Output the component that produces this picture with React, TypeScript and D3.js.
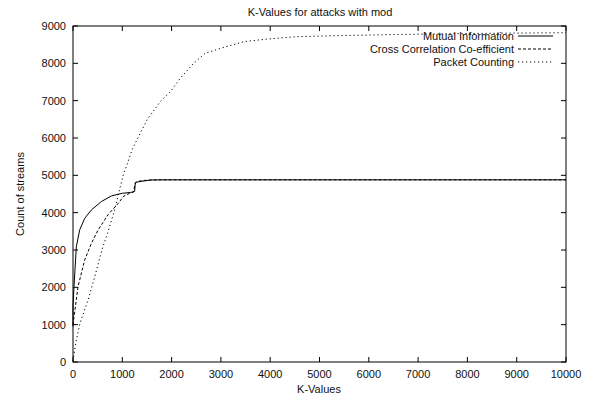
import React from "react";
import * as d3 from "d3";

// Mutual Information (solid)
const miK = [0, 0, 20, 68, 136, 238, 374, 578, 782, 1000, 1163, 1250, 1265, 1367, 1571, 1800, 2500, 10000];
const miV = [950, 1500, 2020, 3090, 3540, 3850, 4075, 4300, 4450, 4520, 4540, 4570, 4810, 4835, 4875, 4880, 4880, 4880];

// Cross Correlation Co-efficient (dashed)
const ccK = [0, 50, 102, 238, 374, 510, 714, 918, 1027, 1150, 1225, 1265, 1300, 1400, 1600, 2000, 10000];
const ccV = [1000, 1500, 2020, 2735, 3180, 3540, 3950, 4250, 4440, 4520, 4550, 4800, 4830, 4860, 4875, 4880, 4880];

// Packet Counting (dotted)
const pcK = [0, 68, 143, 306, 442, 585, 714, 850, 925, 1027, 1100, 1197, 1300, 1504, 1775, 1980, 2175, 2445, 2683, 2988, 3462, 3937, 4547, 5500, 6500, 7500, 8500, 10000];
const pcV = [30, 590, 1045, 1660, 2290, 3000, 3500, 4100, 4520, 5050, 5300, 5680, 5960, 6490, 6980, 7250, 7600, 8000, 8270, 8400, 8580, 8650, 8715, 8745, 8770, 8790, 8805, 8820];

const xTicks = [0, 1000, 2000, 3000, 4000, 5000, 6000, 7000, 8000, 9000, 10000];
const yTicks = [0, 1000, 2000, 3000, 4000, 5000, 6000, 7000, 8000, 9000];

const series = [
  { name: "Mutual Information", k: miK, v: miV, dash: "" },
  { name: "Cross Correlation Co-efficient", k: ccK, v: ccV, dash: "3,2" },
  { name: "Packet Counting", k: pcK, v: pcV, dash: "1.2,2.8" },
];

export default function App() {
  const width = 591;
  const height = 403;
  const margin = { top: 26, right: 25, bottom: 41, left: 73 };
  const font = "'Liberation Sans', Arial, sans-serif";

  const x = d3.scaleLinear().domain([0, 10000]).range([margin.left, width - margin.right]);
  const y = d3.scaleLinear().domain([0, 9000]).range([height - margin.bottom, margin.top]);

  const line = d3
    .line<[number, number]>()
    .x((d) => x(d[0]))
    .y((d) => y(d[1]));

  const tick = 5;
  const legendX = 514;
  const legendY = [36, 49, 62];

  return (
    <svg
      width={width}
      height={height}
      style={{ position: "absolute", left: 0, top: 0, background: "#fff" }}
      fontFamily={font}
      fontSize={11}
    >
      <rect width={width} height={height} fill="#fff" />
      <text x={320} y={16} textAnchor="middle" fill="#111">
        K-Values for attacks with mod
      </text>

      {/* ticks, gnuplot style: inward and mirrored */}
      {xTicks.map((t) => (
        <g key={"x" + t}>
          <line x1={x(t)} x2={x(t)} y1={y(0)} y2={y(0) - tick} stroke="#000" />
          <line x1={x(t)} x2={x(t)} y1={y(9000)} y2={y(9000) + tick} stroke="#000" />
          <text x={x(t)} y={y(0) + 16} textAnchor="middle" fill="#111">
            {t}
          </text>
        </g>
      ))}
      {yTicks.map((t) => (
        <g key={"y" + t}>
          <line x1={x(0)} x2={x(0) + tick} y1={y(t)} y2={y(t)} stroke="#000" />
          <line x1={x(10000)} x2={x(10000) - tick} y1={y(t)} y2={y(t)} stroke="#000" />
          <text x={x(0) - 7} y={y(t) + 4} textAnchor="end" fill="#111">
            {t}
          </text>
        </g>
      ))}

      {series.map((s) => (
        <path
          key={s.name}
          d={line(s.k.map((k, i) => [k, s.v[i]] as [number, number])) || ""}
          fill="none"
          stroke="#000"
          strokeWidth={1}
          strokeDasharray={s.dash || undefined}
        />
      ))}

      <rect
        x={x(0)}
        y={y(9000)}
        width={x(10000) - x(0)}
        height={y(0) - y(9000)}
        fill="none"
        stroke="#000"
        strokeWidth={1}
      />

      {series.map((s, i) => (
        <g key={"leg" + s.name}>
          <text x={legendX} y={legendY[i] + 4} textAnchor="end" fill="#111">
            {s.name}
          </text>
          <line
            x1={legendX + 4}
            x2={legendX + 39}
            y1={legendY[i]}
            y2={legendY[i]}
            stroke="#000"
            strokeDasharray={s.dash || undefined}
          />
        </g>
      ))}

      <text x={319} y={393} textAnchor="middle" fill="#111">
        K-Values
      </text>
      <text
        transform={`translate(24,${(y(0) + y(9000)) / 2}) rotate(-90)`}
        textAnchor="middle"
        fill="#111"
      >
        Count of streams
      </text>
    </svg>
  );
}
